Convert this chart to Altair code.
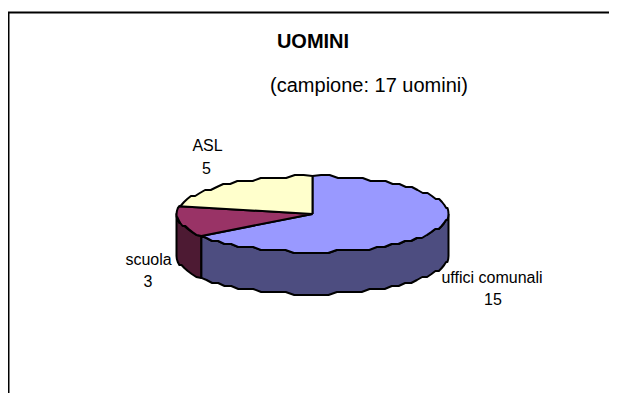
import math
import altair as alt
import pandas as pd

categories = ["uffici comunali", "scuola", "ASL"]
values = [15, 3, 5]
top_colors = ["#9999FF", "#993366", "#FFFFCC"]
side_colors = ["#4D4D80", "#4D1A33", "#80806A"]

# text rows: page position in the reference's pixels
label_text = ["UOMINI", "(campione: 17 uomini)", "ASL", "5", "scuola", "3", "uffici comunali", "15"]
label_x = [313, 369, 207.5, 206.5, 148.5, 148, 492, 493]
label_y = [42, 86, 146, 169, 260, 282, 278, 300]
label_size = [20, 20, 16, 16, 16, 16, 16, 16]
label_weight = ["bold", "normal", "normal", "normal", "normal", "normal", "normal", "normal"]

CX, CY, RX, RY, DEPTH = 312.5, 214, 136, 38, 42
W, H = 601, 385
x_scale = alt.Scale(domain=[8, 8 + W], range=[0, W])
y_scale = alt.Scale(domain=[8 + H, 8], range=[H, 0])


def pt(deg, dy=0):
    r = math.radians(deg)
    return CX + RX * math.sin(r), CY - RY * math.cos(r) + dy


def arc(a, b, dy=0, step=3.6):
    n = max(1, int(abs(b - a) / step))
    out = []
    for k in range(n + 1):
        x, y = pt(a + (b - a) * k / n, dy)
        if 0 < k < n:
            # the source drew its outline on a coarse grid
            y = CY + dy + round((y - CY - dy) / 3) * 3
        out.append((x, y))
    return out


def poly(points, color, width=2.0):
    df = pd.DataFrame({"x": [p[0] for p in points], "y": [p[1] for p in points], "i": range(len(points))})
    return alt.Chart(df).mark_line(fill=color, stroke="black", strokeWidth=width, strokeJoin="round", interpolate="linear").encode(
        x=alt.X("x:Q", scale=x_scale, axis=None),
        y=alt.Y("y:Q", scale=y_scale, axis=None),
        order="i:Q",
    )


total = sum(values)
angles = [0]
for v in values:
    angles.append(angles[-1] + 360 * v / total)

layers = []
# side walls, visible between 90 and 270 degrees
for k in (1, 0):
    a, b = max(angles[k], 90), min(angles[k + 1], 270)
    if b > a:
        front = arc(a, b)
        layers.append(poly(front + arc(b, a, DEPTH) + [front[0]], side_colors[k]))
# top slices
for k in range(3):
    a, b = angles[k], angles[k + 1]
    layers.append(poly([(CX, CY)] + arc(a, b) + [(CX, CY)], top_colors[k]))

frame = pd.DataFrame({"x": [8.5, 8.5, 609], "y": [393, 12.5, 12.5], "i": [0, 1, 2]})
layers.append(alt.Chart(frame).mark_line(color="black", strokeWidth=2).encode(
    x=alt.X("x:Q", scale=x_scale, axis=None),
    y=alt.Y("y:Q", scale=y_scale, axis=None),
    order="i:Q",
))

labels = pd.DataFrame({"t": label_text, "x": label_x, "y": label_y, "s": label_size, "w": label_weight})
for w, g in labels.groupby("w"):
    for s, h in g.groupby("s"):
        layers.append(alt.Chart(h).mark_text(font="Liberation Sans", fontSize=s, fontWeight=w, color="black", baseline="middle", align="center").encode(
            x=alt.X("x:Q", scale=x_scale, axis=None),
            y=alt.Y("y:Q", scale=y_scale, axis=None),
            text="t:N",
        ))

chart = alt.layer(*layers).properties(
    width=W, height=H, padding=0, autosize=alt.AutoSizeParams(type="none"), background="white"
).configure_view(stroke=None)
chart.save("out.html", embed_options={"renderer": "svg", "actions": False})
